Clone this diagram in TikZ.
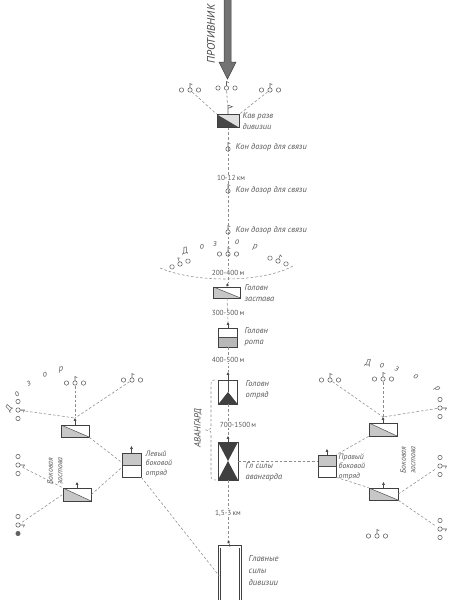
\documentclass[tikz,border=0pt]{standalone}
\usepackage{fontspec}
\setmainfont{PT Sans}
\usetikzlibrary{arrows.meta}
\newcommand\lfont{\fontsize{8.4}{11}\selectfont\itshape}
\newcommand\sfont{\fontsize{7.8}{9.4}\selectfont\itshape}
\newcommand\dfont{\fontsize{7.3}{8}\selectfont}
\newcommand\zfont{\fontsize{9}{9}\selectfont\itshape}
\begin{document}
\begin{tikzpicture}[x=1pt,y=-1pt,
  ax/.style={draw=black!45, dash pattern=on 2.6pt off 2pt, line width=0.55pt},
  bx/.style={draw=black!75, line width=0.7pt, fill=white, rectangle, inner sep=0pt},
  lb/.style={font=\lfont, text=black!65, anchor=west, inner sep=0.5pt, align=left},
  slb/.style={font=\sfont, text=black!65, anchor=west, inner sep=0.5pt, align=left},
  dst/.style={font=\dfont, text=black!65, fill=white, inner sep=0.7pt},
  zl/.style={font=\zfont, text=black!62, inner sep=0pt},
  upar/.style={draw=black!72, line width=0.55pt, -{Triangle[length=2.8pt,width=2.6pt]}},
  sym/.style={draw=black!62, line width=0.55pt},
  pat/.pic={\coordinate (-c) at (0,0); \draw[sym] (0,0) circle (2.2) (0,-2.2) -- (0,-6.5) -- (2.2,-5.4);},
  grp/.pic={\coordinate (-c) at (0,0); \coordinate (-b) at (8.5,0);
    \draw[sym] (-8.5,0) circle (2.2) (8.5,0) circle (2.2) (0,0) circle (2.2) (0,-2.2) -- (0,-6.5) -- (2.2,-5.4);},
  kavfill/.style={fill=black!12, path picture={\fill[black!72] (path picture bounding box.north west) -- (path picture bounding box.south west) -- (path picture bounding box.south east) -- cycle;}},
  zastfill/.style={path picture={\fill[black!22] (path picture bounding box.north west) -- (path picture bounding box.south west) -- (path picture bounding box.south east) -- cycle;
    \draw[black!65, line width=0.55pt] (path picture bounding box.north west) -- (path picture bounding box.south east);}},
  rotafill/.style={path picture={\fill[black!28] (path picture bounding box.west) rectangle (path picture bounding box.south east);
    \draw[black!70, line width=0.6pt] (path picture bounding box.west) -- (path picture bounding box.east);}},
  sidefill/.style={path picture={\fill[black!22] (path picture bounding box.north west) rectangle (path picture bounding box.east);
    \draw[black!70, line width=0.6pt] (path picture bounding box.west) -- (path picture bounding box.east);}},
  otrfill/.style={path picture={\fill[black!75] (path picture bounding box.center) -- (path picture bounding box.south west) -- (path picture bounding box.south east) -- cycle;
    \draw[black!70, line width=0.55pt] (path picture bounding box.north) -- (path picture bounding box.center);}},
  glfill/.style={path picture={\fill[black!75] (path picture bounding box.center) -- (path picture bounding box.south west) -- (path picture bounding box.south east) -- cycle;
    \fill[black!75] (path picture bounding box.center) -- (path picture bounding box.north west) -- (path picture bounding box.north east) -- cycle;}}
]
\path[use as bounding box, fill=white] (0,0) rectangle (455,600);

% ---------- enemy arrow ----------
\filldraw[fill=black!55, draw=black!75, line width=0.5pt] (224,-2) -- (224,62) -- (219,62) -- (227.5,79) -- (236,62) -- (231,62) -- (231,-2) -- cycle;
\node[font=\fontsize{11}{11}\selectfont\itshape, text=black!72, rotate=90] (enemy) at (211,34) {ПРОТИВНИК};

% ---------- cavalry reconnaissance ----------
\pic (tl) at (190,90) {grp};
\pic (tc) at (226.5,88) {grp};
\pic (tr) at (270,90) {grp};
\node[bx, kavfill, minimum width=22, minimum height=13] (kav) at (228,121) {};
\draw[sym] (kav.north) -- ++(0,-9) -- ++(4.5,1.6) -- ++(-4.5,1.6);
\draw[ax, shorten <=3pt] (tl-c) -- (kav.north west);
\draw[ax, shorten <=3pt] (tr-c) -- (kav.north east);
\draw[ax, shorten <=3pt, shorten >=9pt] (tc-c) -- (kav.north);
\node[lb] (kavL) at (242,121) {Кав разв\\дивизии};

% ---------- connecting patrols ----------
\pic (p1) at (228,149) {pat};
\pic (p2) at (228,191) {pat};
\pic (p3) at (228,232) {pat};
\draw[ax] (kav.south) -- (p1-c);
\draw[ax] (p1-c) -- (p2-c);
\draw[ax] (p2-c) -- (p3-c);
\node[lb] (p1L) at (235,147) {Кон дозор для связи};
\node[lb] (p2L) at (235,190) {Кон дозор для связи};
\node[lb] (p3L) at (235,230) {Кон дозор для связи};
\node[dst] (km1) at (231,178) {10-12\,км};

% ---------- head patrol arc ----------
\pic (dl) [rotate=20] at (180,264) {grp};
\pic (dc) at (228,254) {grp};
\pic (dr) [rotate=-20] at (278,261) {grp};
\node[zl, rotate=15] (dz1) at (185,251) {Д};
\node[zl, rotate=10] (dz2) at (202,247) {о};
\node[zl, rotate=5] (dz3) at (215,244) {з};
\node[zl] (dz4) at (237,242) {о};
\node[zl, rotate=-10] (dz5) at (255,248) {р};
\coordinate (arcL) at (160,268);
\coordinate (arcR) at (293,266);
\draw[ax] (arcL) .. controls (195,283) and (262,283) .. (arcR);
\draw[ax] (p3-c) -- (dc-c);

% ---------- column ----------
\coordinate (zt) at (228,283);
\coordinate (rt) at (228,322);
\coordinate (ot) at (228,372);
\coordinate (gt) at (228,436);
\coordinate (mt) at (228,540);
\node[bx, zastfill, minimum width=27, minimum height=11] (zast) at (227,292.5) {};
\node[bx, rotafill, minimum width=19, minimum height=19] (rota) at (228,337.5) {};
\node[bx, otrfill, minimum width=19, minimum height=24] (otr) at (228,392) {};
\node[bx, glfill, minimum width=20, minimum height=38] (glav) at (228,461) {};
\node[inner sep=0pt, minimum width=21, minimum height=58] (main) at (230,576) {};
\draw[draw=black!75, line width=0.8pt, double=white, double distance=1.4pt] (main.south west) -- (main.north west) -- (main.north east) -- (main.south east);

\draw[ax] (dc-c) -- (zt);
\draw[ax] (zast.south) -- (rt);
\draw[ax] (rota.south) -- (ot);
\draw[ax] (otr.south) -- (gt);
\draw[ax] (glav.south) -- (mt);
\draw[upar] (zast.north) -- (zt);
\draw[upar] (rota.north) -- (rt);
\draw[upar] (otr.north) -- (ot);
\draw[upar] (glav.north) -- (gt);
\draw[upar] (main.north) -- (mt);

\node[dst] (m1) at (228,272.5) {200-400\,м};
\node[dst] (m2) at (228,313) {300-500\,м};
\node[dst] (m3) at (228,360) {400-500\,м};
\node[dst] (m4) at (238,425) {700-1500\,м};
\node[dst] (m5) at (228,513) {1,5-3\,км};

\node[lb] (zastL) at (244,293) {Головн\\застава};
\node[lb] (rotaL) at (244,337) {Головн\\рота};
\node[lb] (otrL) at (245,390) {Головн\\отряд};
\node[lb] (glavL) at (245,472) {Гл силы\\авангарда};
\node[lb, font=\fontsize{8.6}{12}\selectfont\itshape] (mainL) at (248,571) {Главные\\силы\\дивизии};

% vanguard brace
\draw[ax] (215,380) .. controls (211,380) and (211,382) .. (211,386) -- (211,425) .. controls (211,429) .. (206,430) .. controls (211,431) .. (211,435) -- (211,475) .. controls (211,479) and (212,480) .. (216,480);
\node[font=\fontsize{9}{9}\selectfont\itshape, text=black!70, rotate=90] (avL) at (198,428) {АВАНГАРД};

% ---------- left side ----------
\node[bx, sidefill, minimum width=19, minimum height=24] (lev) at (131.5,465) {};
\node[bx, zastfill, minimum width=28, minimum height=12] (L1) at (75,431) {};
\node[bx, zastfill, minimum width=28, minimum height=13] (L2) at (77,494.5) {};
\coordinate (levT) at (131.5,446);
\coordinate (L1T) at (75,418);
\coordinate (L2T) at (77,482);
\draw[upar] (lev.north) -- (levT);
\draw[upar] (L1.north) -- (L1T);
\draw[upar] (L2.north) -- (L2T);
\node[slb] (levL) at (145,464) {Левый\\боковой\\отряд};
\pic (Lc) at (75,383) {grp};
\pic (Lr) at (132,380) {grp};
\pic (Lv1) [rotate=-90] at (18,410) {grp};
\pic (Lv2) [rotate=-90] at (18,465) {grp};
\pic (Lv3) [rotate=-90] at (18,525) {grp};
\fill[black!62] (Lv3-b) circle (2.2);
\node[zl, rotate=60] (lz1) at (9,409) {Д};
\node[zl, rotate=45] (lz2) at (17,394) {о};
\node[zl, rotate=30] (lz3) at (29,384) {з};
\node[zl, rotate=15] (lz4) at (45,375) {о};
\node[zl, rotate=5] (lz5) at (61,370) {р};
\draw[ax, shorten <=3pt] (Lc-c) -- (L1T);
\draw[ax, shorten <=3pt] (Lr-c) -- (L1T);
\draw[ax, shorten <=3pt] (Lv1-c) -- (L1T);
\draw[ax] (L1.south east) -- (lev.165);
\draw[ax, shorten <=5pt] (Lv2-c) -- (L2.north west);
\draw[ax, shorten <=5pt] (Lv3-c) -- (L2.west);
\draw[ax] (L2.east) -- (lev.195);
\draw[ax] (lev.south east) -- (main.west);
\node[font=\sfont, text=black!65, rotate=90, align=center, inner sep=0pt] (lzastL) at (55,471) {Боковая\\застава};

% ---------- right side ----------
\node[bx, sidefill, minimum width=18, minimum height=22] (prav) at (327,466) {};
\node[bx, zastfill, minimum width=28, minimum height=13] (R1) at (383,429.5) {};
\node[bx, zastfill, minimum width=29, minimum height=12] (R2) at (383.5,494) {};
\coordinate (pravT) at (327,449);
\coordinate (R1T) at (383,417);
\coordinate (R2T) at (383.5,482);
\draw[upar] (prav.north) -- (pravT);
\draw[upar] (R1.north) -- (R1T);
\draw[upar] (R2.north) -- (R2T);
\node[slb] (pravL) at (338,467) {Правый\\боковой\\отряд};
\pic (Rl) at (330,380) {grp};
\pic (Rc) at (383,379) {grp};
\pic (Rv1) [rotate=-90] at (440,408) {grp};
\pic (Rv2) [rotate=-90] at (440,466) {grp};
\pic (Rv3) [rotate=-90] at (440,529) {grp};
\pic (Rb) at (377,536) {grp};
\node[zl, rotate=-5] (rz1) at (368,363) {Д};
\node[zl, rotate=-10] (rz2) at (382,366) {о};
\node[zl, rotate=-20] (rz3) at (397,369) {з};
\node[zl, rotate=-30] (rz4) at (416,377) {о};
\node[zl, rotate=-45] (rz5) at (437,389) {р};
\draw[ax, shorten <=3pt] (Rl-c) -- (R1T);
\draw[ax, shorten <=3pt] (Rc-c) -- (R1T);
\draw[ax, shorten <=3pt] (Rv1-c) -- (R1T);
\draw[ax] (R1.south west) -- (prav.north east);
\draw[ax] (prav.south east) -- (R2.north west);
\draw[ax, shorten >=5pt] (R2.east) -- (Rv2-c);
\draw[ax, shorten >=5pt] (R2.south east) -- (Rv3-c);
\draw[ax] (glav.east) -- (glav.east -| prav.west);
\node[font=\sfont, text=black!65, rotate=90, align=center, inner sep=0pt] (rzastL) at (408,460) {Боковая\\застава};
\end{tikzpicture}
\end{document}
